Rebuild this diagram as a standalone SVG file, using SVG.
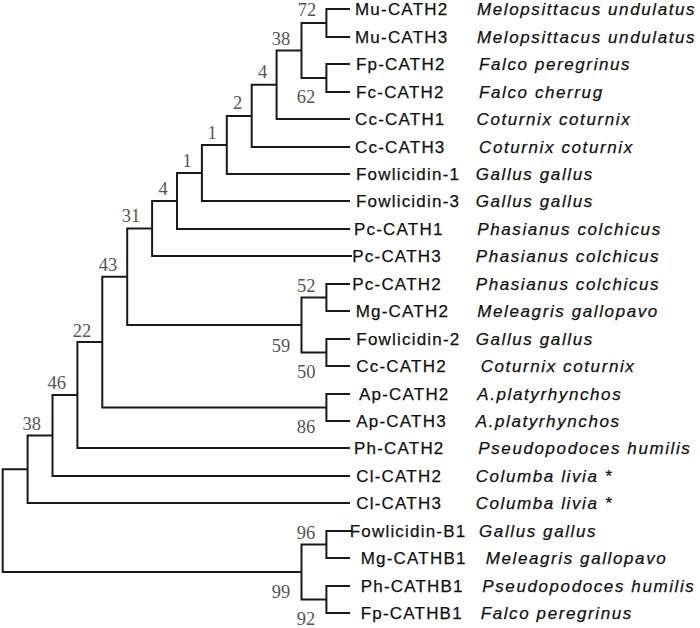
<svg xmlns="http://www.w3.org/2000/svg" width="700" height="628" viewBox="0 0 700 628">
<style>
.br{fill:none;stroke:#1a1a1a;stroke-width:2}
.bs{font-family:"Liberation Serif",serif;font-size:18.5px;fill:#555;text-anchor:middle}
.nm{font-family:"Liberation Sans",Arial,sans-serif;font-size:17px;fill:#111;stroke:#111;stroke-width:0.25px;letter-spacing:1.2px}
.sp{font-family:"Liberation Sans",Arial,sans-serif;font-size:17px;font-style:italic;fill:#111;stroke:#111;stroke-width:0.25px;letter-spacing:1.6px}
</style>
<rect width="700" height="628" fill="#fff"/>
<g id="connectors">
<path class="br" d="M350 9H326.4V37H350"/>
<path class="br" d="M350 64H326.4V92H350"/>
<path class="br" d="M326.4 23H301.5V78H326.4"/>
<path class="br" d="M301.5 50.5H276.6V119H350"/>
<path class="br" d="M276.6 84.75H251.7V147H350"/>
<path class="br" d="M251.7 116H226.8V174H350"/>
<path class="br" d="M226.8 145H201.9V201H350"/>
<path class="br" d="M201.9 173H177V229H350"/>
<path class="br" d="M177 201H152.1V256H352"/>
<path class="br" d="M350 284H326.4V311H350"/>
<path class="br" d="M350 339H326.4V366H350"/>
<path class="br" d="M326.4 297.5H301.5V352.5H326.4"/>
<path class="br" d="M152.1 228.5H127.2V325H301.5"/>
<path class="br" d="M350 394H326.4V421H350"/>
<path class="br" d="M127.2 276.75H102.3V407.5H326.4"/>
<path class="br" d="M102.3 342.1H77.4V448H350"/>
<path class="br" d="M77.4 395H52.5V476H350"/>
<path class="br" d="M52.5 435.5H27.6V503H350"/>
<path class="br" d="M352 531H326.4V558H350"/>
<path class="br" d="M350 586H326.4V613H350"/>
<path class="br" d="M326.4 544.5H301.5V599.5H326.4"/>
<path class="br" d="M27.6 469.3H2.7V572H301.5"/>
</g>
<g id="node-mu"><text class="bs" x="307" y="16">72</text></g>
<g id="node-falco"><text class="bs" x="306" y="103">62</text></g>
<g id="node-mu-falco"><text class="bs" x="281" y="45">38</text></g>
<g id="node-d"><text class="bs" x="262.5" y="78">4</text></g>
<g id="node-e"><text class="bs" x="237.7" y="109">2</text></g>
<g id="node-f"><text class="bs" x="212" y="138.5">1</text></g>
<g id="node-g"><text class="bs" x="187" y="166.5">1</text></g>
<g id="node-h"><text class="bs" x="163" y="195">4</text></g>
<g id="node-i"><text class="bs" x="131" y="222">31</text></g>
<g id="node-j"><text class="bs" x="108" y="270.5">43</text></g>
<g id="node-l"><text class="bs" x="306.3" y="292">52</text></g>
<g id="node-k"><text class="bs" x="281" y="351.5">59</text></g>
<g id="node-m"><text class="bs" x="306.3" y="378">50</text></g>
<g id="node-n"><text class="bs" x="82" y="336.5">22</text></g>
<g id="node-p"><text class="bs" x="56.7" y="389">46</text></g>
<g id="node-r"><text class="bs" x="31.7" y="430">38</text></g>
<g id="node-o"><text class="bs" x="306" y="433">86</text></g>
<g id="node-s"><text class="bs" x="306" y="539">96</text></g>
<g id="node-u"><text class="bs" x="281" y="598">99</text></g>
<g id="node-t"><text class="bs" x="306" y="625">92</text></g>
<g id="leaf-mu-cath2"><text class="nm" x="355" y="15">Mu-CATH2</text><text class="sp" x="477" y="15">Melopsittacus undulatus</text></g>
<g id="leaf-mu-cath3"><text class="nm" x="355" y="43">Mu-CATH3</text><text class="sp" x="477" y="43">Melopsittacus undulatus</text></g>
<g id="leaf-fp-cath2"><text class="nm" x="356" y="70">Fp-CATH2</text><text class="sp" x="479" y="70">Falco peregrinus</text></g>
<g id="leaf-fc-cath2"><text class="nm" x="356" y="98">Fc-CATH2</text><text class="sp" x="479" y="98">Falco cherrug</text></g>
<g id="leaf-cc-cath1"><text class="nm" x="355" y="125">Cc-CATH1</text><text class="sp" x="476.5" y="125">Coturnix coturnix</text></g>
<g id="leaf-cc-cath3"><text class="nm" x="355" y="153">Cc-CATH3</text><text class="sp" x="479" y="153">Coturnix coturnix</text></g>
<g id="leaf-fowlicidin-1"><text class="nm" x="356" y="180">Fowlicidin-1</text><text class="sp" x="475.7" y="180">Gallus gallus</text></g>
<g id="leaf-fowlicidin-3"><text class="nm" x="356" y="207">Fowlicidin-3</text><text class="sp" x="475.7" y="207">Gallus gallus</text></g>
<g id="leaf-pc-cath1"><text class="nm" x="354" y="235">Pc-CATH1</text><text class="sp" x="477.3" y="235">Phasianus colchicus</text></g>
<g id="leaf-pc-cath3"><text class="nm" x="352.3" y="262">Pc-CATH3</text><text class="sp" x="475.7" y="262">Phasianus colchicus</text></g>
<g id="leaf-pc-cath2"><text class="nm" x="352.3" y="290">Pc-CATH2</text><text class="sp" x="475.7" y="290">Phasianus colchicus</text></g>
<g id="leaf-mg-cath2"><text class="nm" x="355.7" y="317">Mg-CATH2</text><text class="sp" x="477.3" y="317">Meleagris gallopavo</text></g>
<g id="leaf-fowlicidin-2"><text class="nm" x="356.3" y="345">Fowlicidin-2</text><text class="sp" x="475.7" y="345">Gallus gallus</text></g>
<g id="leaf-cc-cath2"><text class="nm" x="356.3" y="372">Cc-CATH2</text><text class="sp" x="480.7" y="372">Coturnix coturnix</text></g>
<g id="leaf-ap-cath2"><text class="nm" x="359" y="400">Ap-CATH2</text><text class="sp" x="477.3" y="400">A.platyrhynchos</text></g>
<g id="leaf-ap-cath3"><text class="nm" x="356.3" y="427">Ap-CATH3</text><text class="sp" x="475.7" y="427">A.platyrhynchos</text></g>
<g id="leaf-ph-cath2"><text class="nm" x="354" y="454">Ph-CATH2</text><text class="sp" x="478.3" y="454">Pseudopodoces humilis</text></g>
<g id="leaf-cl-cath2"><text class="nm" x="356.3" y="482">Cl-CATH2</text><text class="sp" x="475.7" y="482">Columba livia *</text></g>
<g id="leaf-cl-cath3"><text class="nm" x="356.3" y="509">Cl-CATH3</text><text class="sp" x="475.7" y="509">Columba livia *</text></g>
<g id="leaf-fowlicidin-b1"><text class="nm" x="349.7" y="537">Fowlicidin-B1</text><text class="sp" x="479" y="537">Gallus gallus</text></g>
<g id="leaf-mg-cathb1"><text class="nm" x="360.7" y="564">Mg-CATHB1</text><text class="sp" x="485.7" y="564">Meleagris gallopavo</text></g>
<g id="leaf-ph-cathb1"><text class="nm" x="360.7" y="592">Ph-CATHB1</text><text class="sp" x="482.3" y="592">Pseudopodoces humilis</text></g>
<g id="leaf-fp-cathb1"><text class="nm" x="360.7" y="619">Fp-CATHB1</text><text class="sp" x="480.7" y="619">Falco peregrinus</text></g>
</svg>
